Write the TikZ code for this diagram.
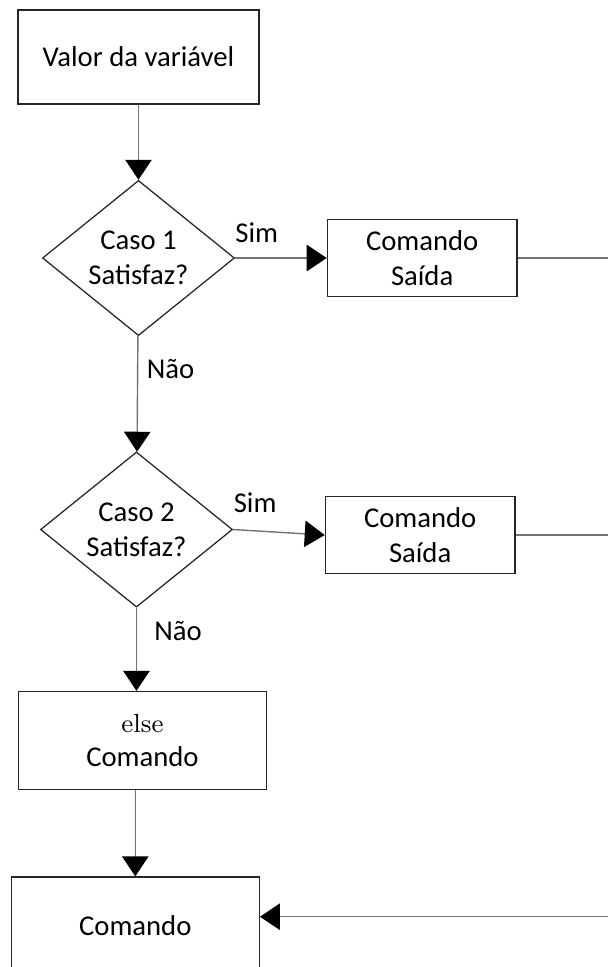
\documentclass[tikz,border=0pt]{standalone}
\usepackage{fontspec}
\setsansfont{Carlito}
\usetikzlibrary{
  calc,
  arrows.meta,
  positioning,
  shapes.geometric
}

\begin{document}
\begin{tikzpicture}[
            node distance=2.5cm,
            font=\sffamily\fontsize{10.2pt}{12.4pt}\selectfont,
            % Stili dei nodi
            cmdbox/.style={rectangle, minimum width=3.1cm, minimum height=1.2cm, align=center, draw=black!85, line width=0.45pt, fill=white},
            outbox/.style={rectangle, minimum width=2.37cm, minimum height=0.96cm, align=center, draw=black!85, line width=0.45pt, fill=white},
            decision/.style={diamond, aspect=1.24, minimum width=2.4cm, minimum height=1.94cm, inner sep=0pt, align=center, draw=black!85, line width=0.45pt, fill=white},
            answer/.style={inner sep=1pt},
            wire/.style={draw=black!55, line width=0.5pt},
            arrow/.style={wire, -{Triangle[length=0.25cm, width=0.33cm, color=black]}}
        ]

        \useasboundingbox (0,0) rectangle (7.6,-12.0875);
        \clip (0,0) rectangle (7.6,-12.0875);

        % Nodi
        \node (val) [cmdbox, minimum width=3.01cm, minimum height=1.175cm] at (1.731,-0.7125) {Valor da variável};
        \node (case1) [decision, below of=val, yshift=-0.0125cm] {Caso 1\\Satisfaz?};
        \node (out1) [outbox, right of=case1, xshift=1.046cm] {Comando\\Saída};

        \node (case2) [decision, below of=case1, yshift=-0.894cm, xshift=-0.025cm] {Caso 2\\Satisfaz?};
        \node (out2) [outbox, right of=case2, xshift=1.046cm, yshift=-0.069cm] {Comando\\Saída};

        \node (elsecmd) [cmdbox, minimum height=1.225cm, below of=case2, yshift=-0.137cm, xshift=0.075cm] {{\rmfamily\fontsize{9.3pt}{12.4pt}\selectfont else}\\Comando};
        \node (final) [cmdbox, minimum height=1.225cm, below of=elsecmd, yshift=0.181cm, xshift=-0.09cm] {Comando};

        % Bordo destro
        \coordinate (rim) at (7.6,0);
        \coordinate (back) at (7.6,-11.459);

        % Etichette
        \node (sim1) [answer] at ($(case1.east)+(0.27,0.31)$) {Sim};
        \node (sim2) [answer] at ($(case2.east)+(0.275,0.335)$) {Sim};
        \node (nao1) [answer] at ($(case1.south)+(0.40,-0.41)$) {Não};
        \node (nao2) [answer] at ($(case2.south)+(0.52,-0.29)$) {Não};

        % Collegamenti
        \draw [arrow] (val) -- (case1);
        \draw [arrow] (case1.east) -- (out1.west);
        \draw [wire] (out1.east) -- (out1.east -| rim);
        \draw [arrow] (case1) -- (case2);
        \draw [arrow] (case2.east) -- (out2.west);
        \draw [wire] (out2.east) -- (out2.east -| rim);
        \draw [arrow] (case2.south) -- (case2.south |- elsecmd.north);
        \draw [arrow] (final.north |- elsecmd.south) -- (final.north);
        \draw [arrow] (back) -- (back -| final.east);

    \end{tikzpicture}
\end{document}
